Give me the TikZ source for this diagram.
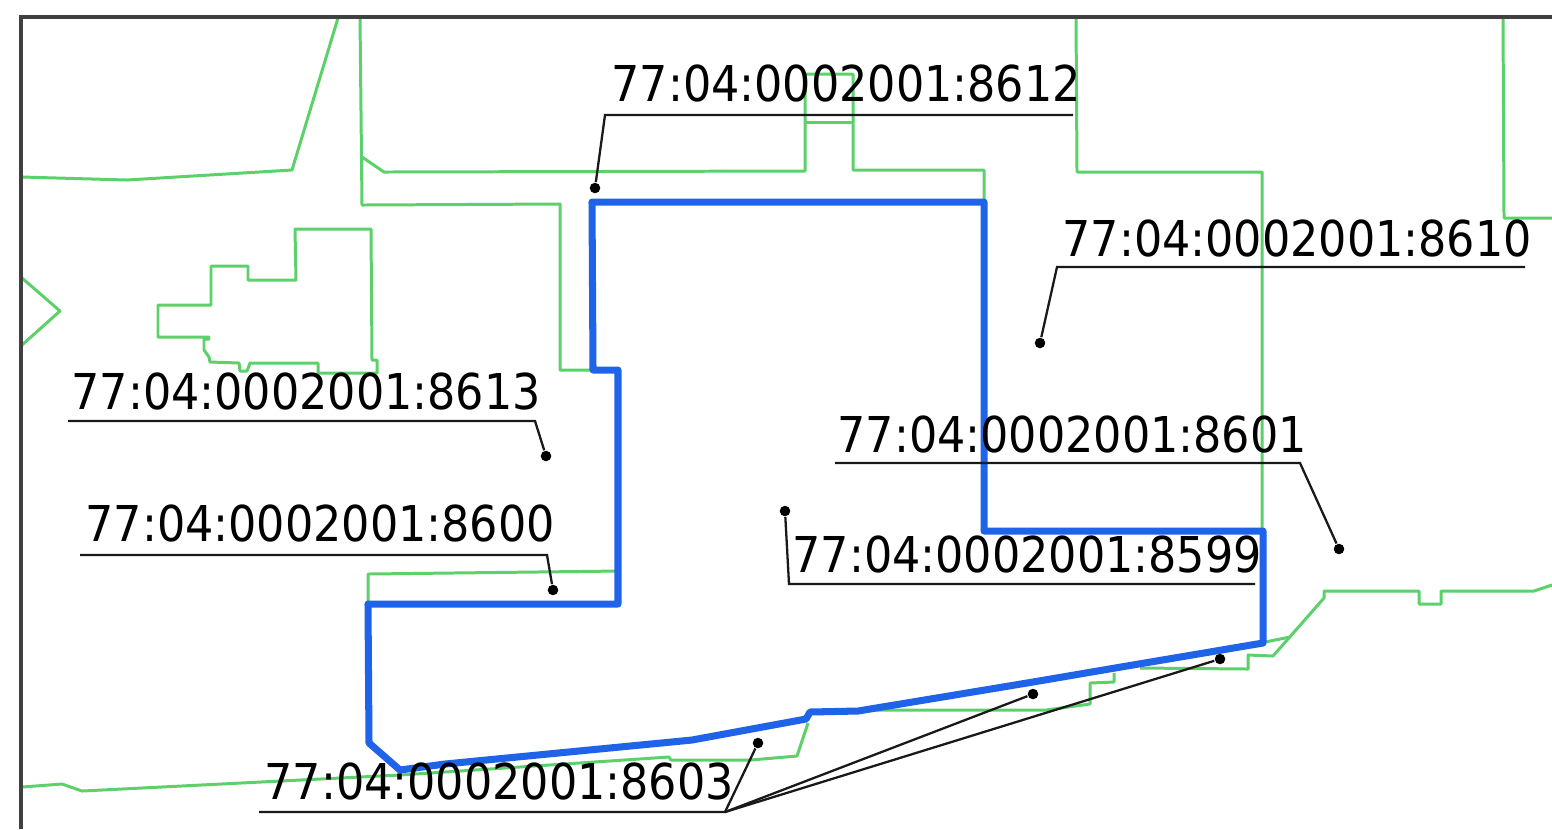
\documentclass[tikz,border=0pt]{standalone}
\usepackage{fontspec}
\setmainfont{DejaVu Sans Condensed}
\usetikzlibrary{positioning}
\definecolor{plotgreen}{rgb}{0.36,0.82,0.42}
\definecolor{plotblue}{rgb}{0.12,0.39,0.91}
\tikzset{
  parcel/.style={plotgreen,line width=0.85pt,line join=round},
  boundary/.style={plotblue,line width=2pt,line join=round},
  leader/.style={black!90,line width=0.65pt},
  pt/.style={circle,fill=black,inner sep=0pt,minimum size=3pt},
  cadnum/.style={anchor=base west,inner sep=0pt,font=\fontsize{14.05}{16}\selectfont}
}
\begin{document}
\begin{tikzpicture}[x=0.01cm,y=-0.01cm]
        \useasboundingbox (0,0) rectangle (1552,829);
        \fill[white] (0,0) rectangle (1552,829);
        % neighbouring parcels
        \draw[parcel] (22,177) -- (127,180) -- (292,170) -- (338,18);
        \draw[parcel] (360,18) -- (362,205) -- (560,204) -- (560,370) -- (592,370);
        \draw[parcel] (362,157) -- (384,172) -- (805,171) -- (805,74) -- (853,74) -- (853,170) -- (984,170) -- (984,202);
        \draw[parcel] (805,122) -- (853,122);
        \draw[parcel] (1076,18) -- (1077,172) -- (1262,172) -- (1262,531);
        \draw[parcel] (1503,18) -- (1504,218) -- (1552,218);
        \draw[parcel] (22,278) -- (60,311) -- (22,345);
        \draw[parcel] (295,229) -- (371,229) -- (372,360) -- (377,360) -- (377,373) -- (318,373) -- (318,363) -- (250,363)
        -- (247,371) -- (240,371) -- (239,363) -- (210,362) -- (209,357) -- (204,350) -- (204,339) -- (209,339) -- (209,337)
        -- (158,337) -- (158,305) -- (211,305) -- (211,266) -- (248,266) -- (248,280) -- (296,280) -- cycle;
        \draw[parcel] (368,604) -- (368,574) -- (620,571);
        \draw[parcel] (22,787) -- (62,784) -- (82,791) -- (400,775) -- (669,757) -- (671,760) -- (751,760) -- (797,756) -- (808,723);
        \draw[parcel] (858,710) -- (1046,710) -- (1090,704) -- (1090,683) -- (1114,682) -- (1114,673);
        \draw[parcel] (1140,668) -- (1248,669) -- (1248,655) -- (1273,656) -- (1324,598) -- (1324,591) -- (1419,591)
        -- (1419,604) -- (1441,604) -- (1441,591) -- (1534,591) -- (1552,585);
        \draw[parcel] (1265,642) -- (1290,637);
        % the plot itself
        \draw[boundary] (592,202) -- (984,202) -- (984,531) -- (1263,531) -- (1263,643) -- (1115,668) -- (1033,682)
        -- (858,711) -- (810,712) -- (806,719) -- (692,740) -- (445,764) -- (400,770) -- (369,743) -- (368,604)
        -- (618,604) -- (618,370) -- (593,370) -- cycle;
        % frame
        \draw[black!75,line width=1pt] (21,829) -- (21,17) -- (1552,17);
        % labels
        \node[cadnum] (n8612) at (611,101) {77:04:0002001:8612};
        \node[cadnum] (n8610) at (1062,256) {77:04:0002001:8610};
        \node[cadnum] (n8613) at (71,409) {77:04:0002001:8613};
        \node[cadnum] (n8601) at (837,452) {77:04:0002001:8601};
        \node[cadnum] (n8600) at (85,541) {77:04:0002001:8600};
        \node[cadnum] (n8599) at (792,572) {77:04:0002001:8599};
        \node[cadnum] (n8603) at (264,799) {77:04:0002001:8603};
        % points
        \node[pt] (p8612) at (595,188) {};
        \node[pt] (p8610) at (1040,343) {};
        \node[pt] (p8613) at (546,456) {};
        \node[pt] (p8601) at (1339,549) {};
        \node[pt] (p8600) at (553,590) {};
        \node[pt] (p8599) at (785,511) {};
        \node[pt] (p8603a) at (758,743) {};
        \node[pt] (p8603b) at (1033,694) {};
        \node[pt] (p8603c) at (1220,659) {};
        % leaders
        \coordinate (a8612) at (605,115);
        \coordinate (a8610) at (1057,267);
        \coordinate (a8613) at (535,421);
        \coordinate (a8601) at (1300,463);
        \coordinate (a8600) at (547,555);
        \coordinate (a8599) at (789,584);
        \coordinate (a8603) at (725,812);
        \draw[leader] (1073,115) -- (a8612) -- (p8612);
        \draw[leader] (1525,267) -- (a8610) -- (p8610);
        \draw[leader] (68,421) -- (a8613) -- (p8613);
        \draw[leader] (835,463) -- (a8601) -- (p8601);
        \draw[leader] (80,555) -- (a8600) -- (p8600);
        \draw[leader] (1255,584) -- (a8599) -- (p8599);
        \draw[leader] (259,812) -- (a8603) -- (p8603a);
        \draw[leader] (a8603) -- (p8603b);
        \draw[leader] (a8603) -- (p8603c);
      \end{tikzpicture}
\end{document}
